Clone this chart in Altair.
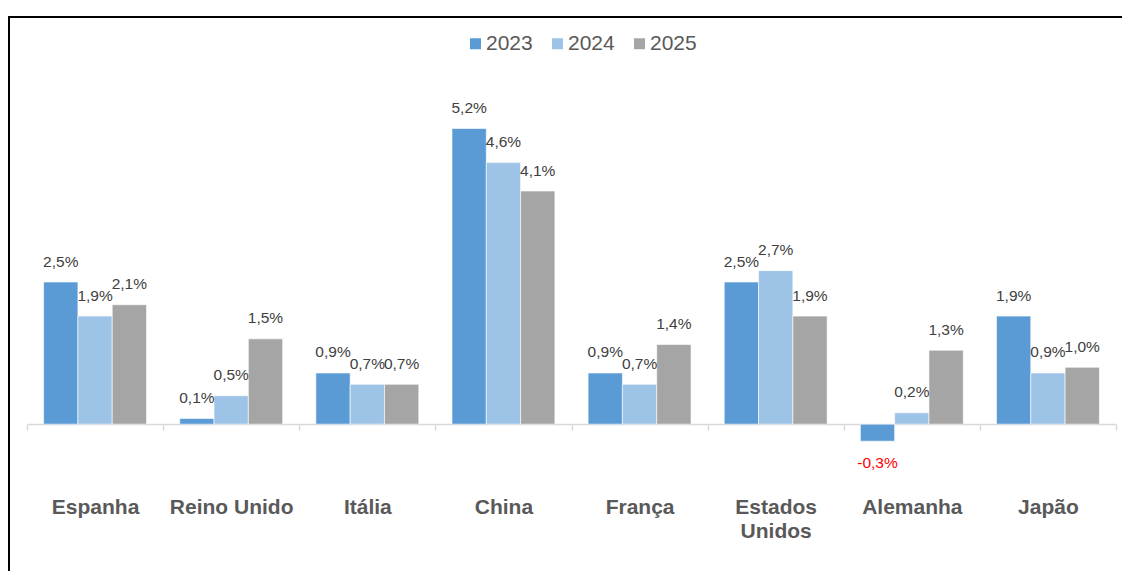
import altair as alt
import pandas as pd

countries = ["Espanha", "Reino Unido", "Itália", "China", "França",
             "Estados Unidos", "Alemanha", "Japão"]
years = ["2023", "2024", "2025"]
v2023 = [2.5, 0.1, 0.9, 5.2, 0.9, 2.5, -0.3, 1.9]
v2024 = [1.9, 0.5, 0.7, 4.6, 0.7, 2.7, 0.2, 0.9]
v2025 = [2.1, 1.5, 0.7, 4.1, 1.4, 1.9, 1.3, 1.0]
colors = ["#5B9BD5", "#9DC3E6", "#A5A5A5"]

rows = []
for yr, vals in zip(years, [v2023, v2024, v2025]):
    for c, v in zip(countries, vals):
        rows.append({"pais": c, "ano": yr, "valor": v,
                     "rotulo": f"{v:.1f}".replace(".", ",") + "%"})
df = pd.DataFrame(rows)

W, H = 1089, 398
FONT = "Liberation Sans"

x_enc = alt.X("pais:N", sort=countries, title=None,
              scale=alt.Scale(paddingInner=0, paddingOuter=0),
              axis=alt.Axis(orient="bottom", offset=-57, tickBand="extent",
                            domainColor="#D9D9D9", domainWidth=1.5,
                            tickColor="#D9D9D9", tickWidth=1.5, tickSize=6,
                            labelFont=FONT, labelFontSize=21, labelFontWeight="bold",
                            labelColor="#595959", labelPadding=66, labelAngle=0,
                            labelLineHeight=24,
                            labelExpr="datum.label == 'Estados Unidos' ? ['Estados', 'Unidos'] : datum.label"))
xo_enc = alt.XOffset("ano:N", sort=years,
                     scale=alt.Scale(paddingInner=0, paddingOuter=0.484))
y_scale = alt.Scale(domain=[-1, 6], nice=False, zero=False)

base = alt.Chart(df)

bars = base.mark_bar(stroke="white", strokeWidth=0.6).encode(
    x=x_enc,
    xOffset=xo_enc,
    y=alt.Y("valor:Q", scale=y_scale, axis=None),
    y2=alt.datum(0),
    color=alt.Color("ano:N", sort=years,
                    scale=alt.Scale(domain=years, range=colors),
                    legend=alt.Legend(title=None, orient="none", direction="horizontal",
                                      legendX=438, legendY=-50, padding=0,
                                      symbolType="square", symbolSize=121,
                                      symbolStrokeWidth=0, labelFont=FONT,
                                      labelFontSize=21, labelColor="#595959",
                                      labelOffset=0, columnPadding=14)),
)

lab_pos = base.transform_filter("datum.valor >= 0").mark_text(
    font=FONT, fontSize=15.5, color="#404040", baseline="middle", dy=-20.5
).encode(x=x_enc, xOffset=xo_enc, y=alt.Y("valor:Q", scale=y_scale, axis=None),
         text="rotulo:N")

lab_neg = base.transform_filter("datum.valor < 0").mark_text(
    font=FONT, fontSize=15.5, color="#FF0000", baseline="middle", dy=22
).encode(x=x_enc, xOffset=xo_enc, y=alt.Y("valor:Q", scale=y_scale, axis=None),
         text="rotulo:N")

border_left = alt.Chart(pd.DataFrame({"k": [0]})).mark_rule(
    color="black", strokeWidth=2).encode(
    x=alt.value(-18), y=alt.value(-66), y2=alt.value(500))
border_top = alt.Chart(pd.DataFrame({"k": [0]})).mark_rule(
    color="black", strokeWidth=2).encode(
    x=alt.value(-19), x2=alt.value(1110), y=alt.value(-66))

chart = alt.layer(bars, lab_pos, lab_neg, border_left, border_top).properties(
    width=W, height=H,
    background="white",
    padding={"left": 19, "top": 75, "right": 6, "bottom": 90},
    autosize=alt.AutoSizeParams(type="none"),
).configure_view(stroke="transparent", strokeWidth=0)

chart.save("out.html", embed_options={"renderer": "svg", "actions": False})
